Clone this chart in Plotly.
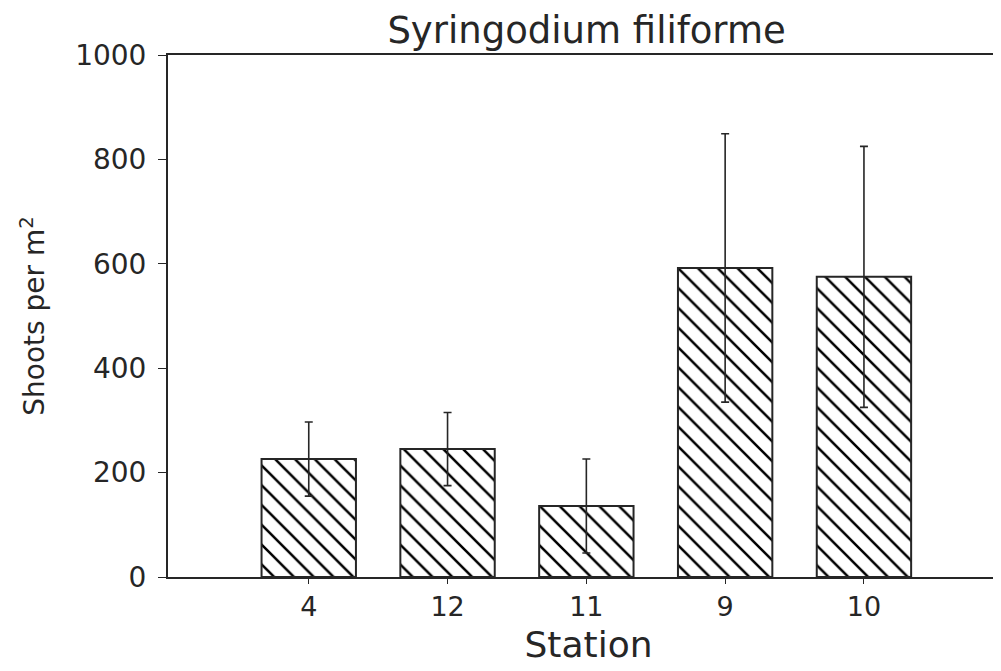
import plotly.graph_objects as go

stations = ["4", "12", "11", "9", "10"]
means = [226, 245, 136, 592, 575]
errors = [71, 70, 90, 257, 250]
y_ticks = [0, 200, 400, 600, 800, 1000]

ink = "#262626"
font_family = "DejaVu Sans"
xpos = list(range(len(stations)))

fig = go.Figure()
fig.add_trace(go.Bar(
    x=xpos,
    y=means,
    width=0.68,
    marker=dict(
        color="white",
        line=dict(color=ink, width=2),
        pattern=dict(shape="\\", fgcolor="#000000", fgopacity=1, bgcolor="white",
                     size=14, solidity=0.18, fillmode="replace"),
    ),
    error_y=dict(type="data", array=errors, visible=True, color=ink, thickness=1.6, width=4),
    showlegend=False,
))

fig.update_layout(
    width=1001,
    height=671,
    margin=dict(l=160, r=0, t=47, b=102),
    paper_bgcolor="white",
    plot_bgcolor="white",
    font=dict(family=font_family, color=ink, size=27),
    title=dict(text="Syringodium filiforme", x=0.578, xanchor="center", y=0.967, yanchor="middle",
               font=dict(size=37, family=font_family, color=ink)),
    bargap=0.3,
)
fig.update_xaxes(
    range=[-1.014, 5.045],
    tickmode="array",
    tickvals=xpos,
    ticktext=stations,
    showline=True,
    linecolor=ink,
    linewidth=2,
    mirror=True,
    ticks="outside",
    ticklen=5,
    tickcolor=ink,
    showgrid=False,
    zeroline=False,
    tickfont=dict(size=27),
    title=dict(text="Station", font=dict(size=36), standoff=10),
)
fig.update_yaxes(
    range=[0, 1000],
    tickmode="array",
    tickvals=y_ticks,
    showline=True,
    linecolor=ink,
    linewidth=2,
    ticks="outside",
    ticklen=8,
    tickcolor=ink,
    ticklabelstandoff=6,
    showgrid=False,
    zeroline=False,
    tickfont=dict(size=28),
    title=dict(text="Shoots per m<sup>2</sup>", font=dict(size=28), standoff=22),
)

fig.write_html("out.html")
